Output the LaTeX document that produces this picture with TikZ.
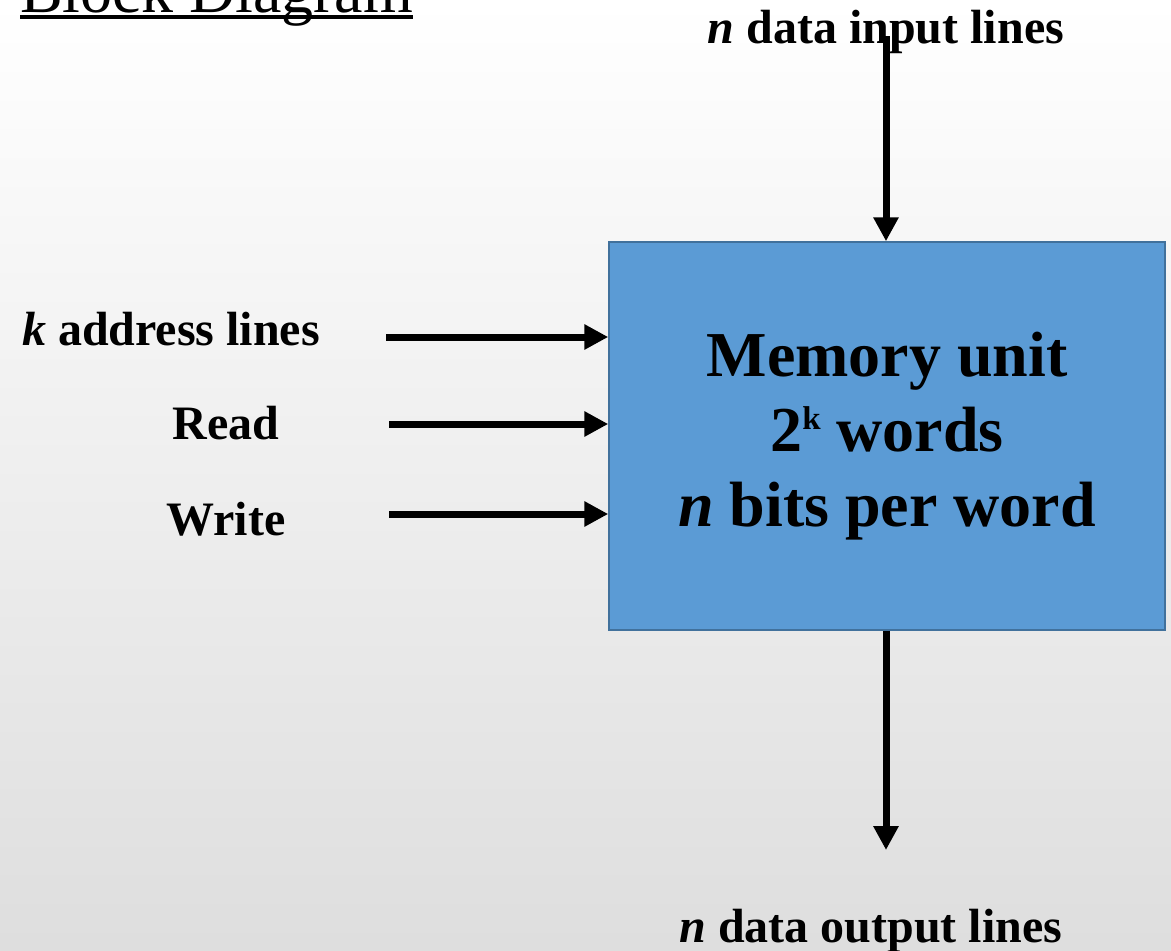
\documentclass[tikz,border=0pt]{standalone}
\usepackage{fontspec}
\setmainfont{Liberation Serif}
\usetikzlibrary{arrows.meta}
\begin{document}
\begin{tikzpicture}[x=1pt,y=-1pt,
  lbl/.style={font=\fontsize{48}{56}\selectfont\bfseries, anchor=base, inner sep=0pt},
  wire/.style={line width=7pt, -{Triangle[length=24pt,width=24pt]}}]
\definecolor{memblue}{HTML}{5B9BD5}
\definecolor{memedge}{HTML}{41719C}
\clip (0,0) rectangle (1171,951);
\useasboundingbox (0,0) rectangle (1171,951);
\shade[top color=white, bottom color=black!13] (0,0) rectangle (1171,951);
% title
\node[anchor=base west, inner sep=0pt, font=\fontsize{64}{70}\selectfont] (title) at (20,12) {Block Diagram};
\draw[line width=3.5pt] (title.base west) ++(0,5) coordinate (ulA) -- (ulA -| title.east);
% memory box
\node[draw=memedge, fill=memblue, line width=1.5pt, inner sep=0pt, minimum width=556pt, minimum height=388pt] (mem) at (887,436) {};
\node[font=\fontsize{64}{75}\selectfont\bfseries, align=center, anchor=center] (memtxt) at (887,436)
  {Memory unit\\2\raisebox{22pt}{\fontsize{33}{33}\selectfont k} words\\\textit{n} bits per word};
% labels
\node[lbl] (inlbl) at (886,43) {\textit{n} data input lines};
\node[lbl] (outlbl) at (871,942) {\textit{n} data output lines};
\node[lbl] (klbl) at (171,345) {\textit{k} address lines};
\node[lbl] (rlbl) at (226,439) {Read};
\node[lbl] (wlbl) at (226,535) {Write};
% connector ends
\coordinate (inStart) at (886,36);
\coordinate (outEnd) at (886,850);
\coordinate (kStart) at (386,337);
\coordinate (rStart) at (389,424);
\coordinate (wStart) at (389,514);
\draw[wire] (inStart) -- (mem.north -| inStart);
\draw[wire] (mem.south -| outEnd) -- (outEnd);
\draw[wire] (kStart) -- (kStart -| mem.west);
\draw[wire] (rStart) -- (rStart -| mem.west);
\draw[wire] (wStart) -- (wStart -| mem.west);
\end{tikzpicture}
\end{document}
